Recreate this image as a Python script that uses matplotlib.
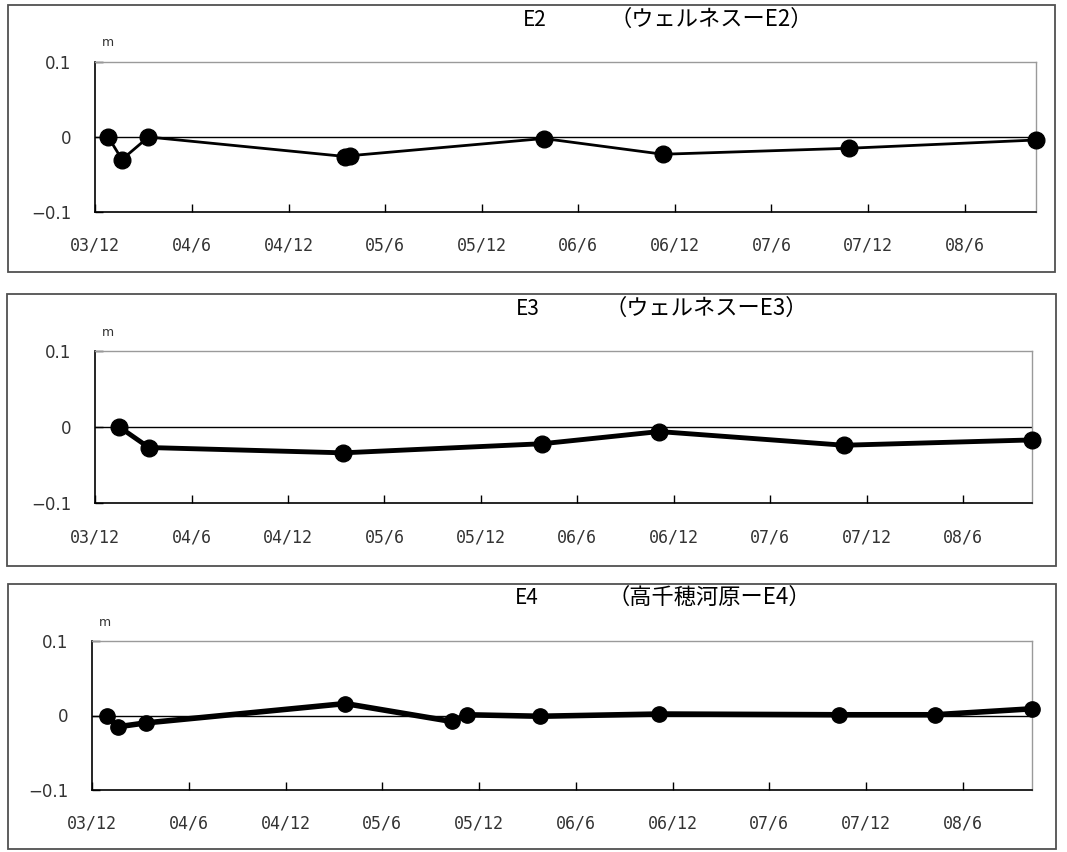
import matplotlib
matplotlib.use("Agg")
import matplotlib.pyplot as plt
import matplotlib.dates as mdates
from matplotlib.patches import Rectangle
import pandas as pd

W, H = 1067, 852

# E2 (ウェルネス-E2)
e2_dates = ["2003-12-26", "2004-01-21", "2004-03-11", "2005-03-18", "2005-03-26",
            "2006-03-28", "2006-11-08", "2007-10-26", "2008-10-13"]
e2_vals = [0.0, -0.030, 0.0, -0.026, -0.025, -0.002, -0.023, -0.015, -0.004]

# E3 (ウェルネス-E3)
e3_dates = ["2004-01-16", "2004-03-12", "2005-03-15", "2006-03-27", "2006-11-03",
            "2007-10-19", "2008-10-09"]
e3_vals = [0.0, -0.027, -0.034, -0.022, -0.006, -0.024, -0.017]

# E4 (高千穂河原-E4)
e4_dates = ["2003-12-29", "2004-01-20", "2004-03-11", "2005-03-23", "2005-10-10",
            "2005-11-07", "2006-03-25", "2006-11-06", "2007-10-10", "2008-04-09",
            "2008-10-09"]
e4_vals = [0.0, -0.015, -0.010, 0.016, -0.008, 0.001, -0.001, 0.002, 0.001, 0.001, 0.009]

titles = ["E2", "E3", "E4"]
subtitles = ["（ウェルネスーE2）", "（ウェルネスーE3）", "（高千穂河原ーE4）"]
y_ticks = [-0.1, 0, 0.1]
y_labels = ["−0.1", "0", "0.1"]
x_start = "2003-12-01"

panels = [
    # dates, values, box(l,t,r,b), axes(l,t,r,b), title x, sub x, title y, lw, ms
    (e2_dates, e2_vals, (8, 5, 1055, 272), (95, 62, 1036, 212), 535, 711, 20, 2.0, 12),
    (e3_dates, e3_vals, (7, 294, 1056, 566), (95, 351, 1032, 503), 528, 706, 309, 3.5, 12),
    (e4_dates, e4_vals, (8, 584, 1056, 849), (92, 641, 1032, 790), 527, 709, 598, 4.0, 11),
]

fig = plt.figure(figsize=(W / 100, H / 100), dpi=100)
jp = ["Noto Sans CJK JP", "DejaVu Sans"]


def month_fmt(x, pos):
    d = mdates.num2date(x)
    return f"{d.year % 100:02d}/{d.month}"


for i, (dates, vals, box, ab, tx, sx, ty, lw, ms) in enumerate(panels):
    l, t, r, b = box
    fig.patches.append(Rectangle((l / W, 1 - b / H), (r - l) / W, (b - t) / H,
                                 transform=fig.transFigure, fill=False,
                                 ec="#505050", lw=1.3))
    l, t, r, b = ab
    ax = fig.add_axes([l / W, 1 - b / H, (r - l) / W, (b - t) / H])
    x = pd.to_datetime(dates)
    ax.axhline(0, color="black", lw=1.0, zorder=1)
    ax.plot(x, vals, color="black", lw=lw, marker="o", ms=ms, clip_on=False, zorder=3)

    ax.set_xlim(pd.Timestamp(x_start), x.max())
    ax.set_ylim(-0.1, 0.1)
    ax.xaxis.set_major_locator(mdates.MonthLocator(bymonth=[6, 12]))
    ax.xaxis.set_major_formatter(plt.FuncFormatter(month_fmt))
    ax.set_yticks(y_ticks)
    ax.set_yticklabels(y_labels)
    ax.tick_params(axis="x", direction="in", length=6, width=1, pad=18,
                   labelsize=12, labelcolor="#333333")
    ax.tick_params(axis="y", direction="in", length=6, width=1, pad=17,
                   labelsize=12, labelcolor="#333333")
    for lab in ax.get_xticklabels():
        lab.set_family("DejaVu Sans Mono")
    for lab in ax.get_yticklabels():
        lab.set_family("DejaVu Sans")
    for s in ["top", "right"]:
        ax.spines[s].set_color("#9a9a9a")
        ax.spines[s].set_linewidth(1.0)
    for s in ["left", "bottom"]:
        ax.spines[s].set_color("black")
        ax.spines[s].set_linewidth(1.2)

    fig.text((l + 13) / W, 1 - (t - 19) / H, "m", fontsize=9, ha="center", va="center",
             family="DejaVu Sans", color="#333333")
    fig.text(tx / W, 1 - ty / H, titles[i], fontsize=15, ha="center", va="center", family=jp)
    fig.text(sx / W, 1 - (ty - 1) / H, subtitles[i], fontsize=16, ha="center", va="center",
             family=jp)

fig.savefig("out.png", dpi=100)
